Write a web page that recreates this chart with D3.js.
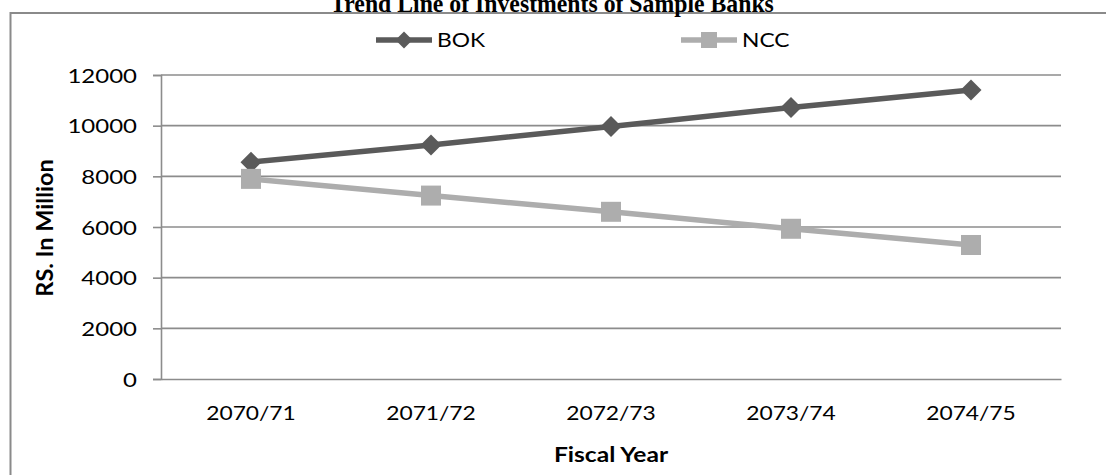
<!DOCTYPE html>
<html>
<head>
<meta charset="utf-8">
<script src="https://cdn.jsdelivr.net/npm/d3@7"></script>
<style>
  html, body { margin: 0; padding: 0; background: #ffffff; }
  svg { display: block; }
</style>
</head>
<body>
<svg id="chart" width="1106" height="475"></svg>
<script>
// Fiscal years and investment figures (Rs. in million)
const categories = ["2070/71", "2071/72", "2072/73", "2073/74", "2074/75"];
const bokValues = [8560, 9240, 9970, 10720, 11410];
const nccValues = [7900, 7240, 6600, 5930, 5290];
const yTicks = [0, 2000, 4000, 6000, 8000, 10000, 12000];
const seriesNames = ["BOK", "NCC"];

const W = 1106, H = 475;
const plot = { left: 161, right: 1061, top: 75, bottom: 379 };
const STRETCH = 1.2; // wide lettering of the chart text
const sansFont = "Lato, 'Open Sans', sans-serif";

const svg = d3.select("#chart");

// outer chart frame (runs past the right and bottom edges)
svg.append("rect")
  .attr("x", 10.5).attr("y", 13)
  .attr("width", W + 20).attr("height", H + 20)
  .attr("fill", "#fff")
  .attr("stroke", "#8a8a8a").attr("stroke-width", 2);

// title, sitting above the frame
svg.append("text")
  .attr("transform", `translate(552,12) scale(0.95,1)`)
  .attr("text-anchor", "middle")
  .attr("font-family", "'Liberation Serif', 'Times New Roman', serif")
  .attr("font-weight", "bold")
  .attr("font-size", 25)
  .attr("fill", "#000")
  .text("Trend Line of Investments of Sample Banks");

const x = d3.scaleBand().domain(categories).range([plot.left, plot.right]).padding(0);
const xc = d => x(d) + x.bandwidth() / 2;
const y = d3.scaleLinear().domain([0, 12000]).range([plot.bottom, plot.top]);

// horizontal gridlines
svg.append("g")
  .selectAll("line")
  .data(yTicks.filter(t => t > 0))
  .join("line")
  .attr("x1", plot.left).attr("x2", plot.right)
  .attr("y1", d => y(d)).attr("y2", d => y(d))
  .attr("stroke", "#8c8c8c").attr("stroke-width", 1.6);

// y axis
const yAxis = svg.append("g")
  .attr("transform", `translate(${plot.left},0)`)
  .call(d3.axisLeft(y).tickValues(yTicks).tickSize(8).tickPadding(0).tickFormat(d3.format("d")));
yAxis.select(".domain").attr("stroke", "#8c8c8c").attr("stroke-width", 1.6);
yAxis.selectAll(".tick line").attr("stroke", "#8c8c8c").attr("stroke-width", 1.6);
yAxis.selectAll(".tick text")
  .attr("x", -20)
  .attr("dy", "0.36em")
  .attr("transform", `scale(${STRETCH},1)`)
  .attr("font-family", sansFont)
  .attr("font-size", 20)
  .attr("fill", "#000");

// x axis
const xAxis = svg.append("g")
  .attr("transform", `translate(0,${plot.bottom})`)
  .call(d3.axisBottom(x).tickSize(0).tickPadding(0));
xAxis.select(".domain").attr("stroke", "#8c8c8c").attr("stroke-width", 1.6);
xAxis.selectAll(".tick text")
  .attr("y", 41)
  .attr("dy", 0)
  .attr("transform", `scale(${STRETCH},1)`)
  .attr("font-family", sansFont)
  .attr("font-size", 19)
  .attr("fill", "#000");

// axis titles
svg.append("text")
  .attr("transform", `translate(${(plot.left + plot.right) / 2},${plot.bottom + 83}) scale(${STRETCH},1)`)
  .attr("text-anchor", "middle")
  .attr("font-family", sansFont)
  .attr("font-weight", "bold")
  .attr("font-size", 20.5)
  .attr("fill", "#000")
  .text("Fiscal Year");

svg.append("text")
  .attr("transform", `translate(53,228) rotate(-90)`)
  .attr("text-anchor", "middle")
  .attr("font-family", sansFont)
  .attr("font-weight", "bold")
  .attr("font-size", 23.5)
  .attr("fill", "#000")
  .text("RS. In Million");

// series
const series = [
  { name: seriesNames[0], values: bokValues, color: "#5a5a5a", symbol: "diamond" },
  { name: seriesNames[1], values: nccValues, color: "#adadad", symbol: "square" }
];

const line = d3.line().x((d, i) => xc(categories[i])).y(d => y(d));

function drawMarker(g, kind, cx, cy, size, color) {
  if (kind === "diamond") {
    const h = size / 2;
    g.append("path")
      .attr("d", `M${cx},${cy - h}L${cx + h},${cy}L${cx},${cy + h}L${cx - h},${cy}Z`)
      .attr("fill", color);
  } else {
    g.append("rect")
      .attr("x", cx - size / 2).attr("y", cy - size / 2)
      .attr("width", size).attr("height", size)
      .attr("fill", color);
  }
}

series.forEach(s => {
  const g = svg.append("g");
  g.append("path")
    .datum(s.values)
    .attr("d", line)
    .attr("fill", "none")
    .attr("stroke", s.color)
    .attr("stroke-width", 5.5)
    .attr("stroke-linejoin", "round");
  s.values.forEach((v, i) => {
    drawMarker(g, s.symbol, xc(categories[i]), y(v), s.symbol === "diamond" ? 21 : 20, s.color);
  });
});

// legend
const legendX = [376, 681];
series.forEach((s, i) => {
  const g = svg.append("g").attr("transform", `translate(${legendX[i]},40)`);
  g.append("line")
    .attr("x1", 0).attr("x2", 56).attr("y1", 0).attr("y2", 0)
    .attr("stroke", s.color).attr("stroke-width", 5.5);
  drawMarker(g, s.symbol, 28, 0, s.symbol === "diamond" ? 17 : 16, s.color);
  g.append("text")
    .attr("transform", `translate(61,7) scale(${STRETCH},1)`)
    .attr("font-family", sansFont)
    .attr("font-size", 19)
    .attr("fill", "#000")
    .text(s.name);
});
</script>
</body>
</html>
